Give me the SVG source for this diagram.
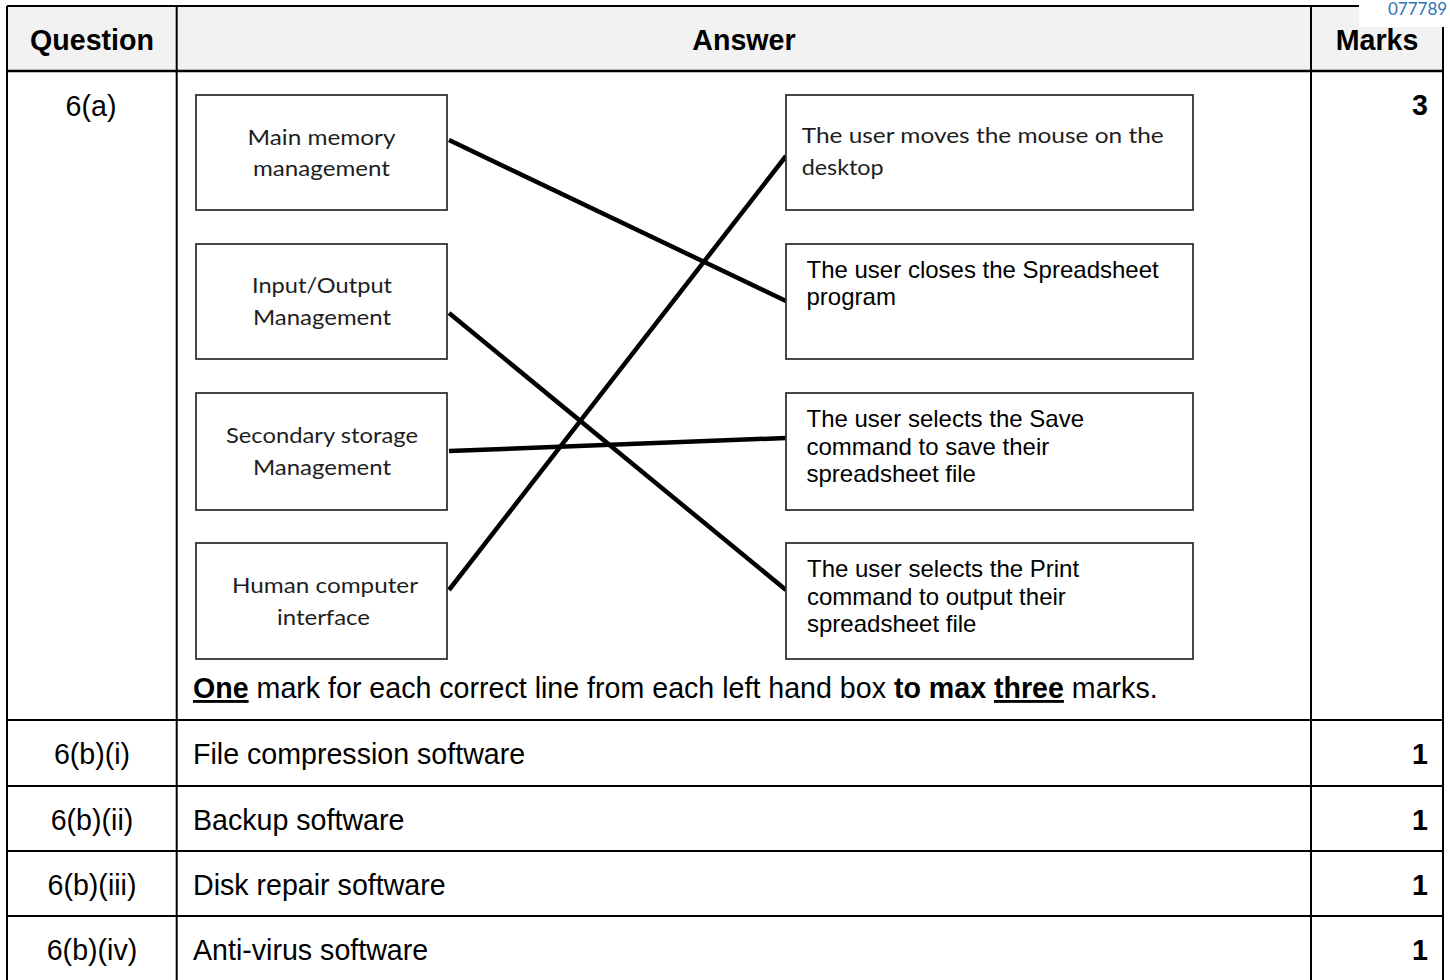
<svg xmlns="http://www.w3.org/2000/svg" width="1450" height="980" viewBox="0 0 1450 980">
<style>
.grid{stroke:#000;stroke-width:2;fill:none}
.t{font-family:"Liberation Sans",Arial,sans-serif;font-size:28.6px;fill:#000}
.b{font-weight:bold}
.box{fill:#fff;stroke:#333;stroke-width:1.8}
.cal{font-family:Lato,"Open Sans",sans-serif;font-size:21px;fill:#1e1e1e}
.ar{font-family:"Liberation Sans",Arial,sans-serif;font-size:24px;fill:#000}
.con{stroke:#000;stroke-width:4.5;stroke-linecap:butt}
</style>
<rect x="0" y="0" width="1450" height="980" fill="#fff"/>
<rect x="7" y="6" width="1436" height="65" fill="#f2f2f2"/>
<rect x="1359" y="0" width="91" height="27" fill="#fff"/>
<text x="1388" y="15" font-family="Lato,'Open Sans',sans-serif" font-size="17" fill="#2e74b5">077789</text>
<g id="table-grid" class="grid">
<line x1="7" y1="6" x2="1359" y2="6"/>
<line x1="7" y1="6" x2="7" y2="980"/>
<line x1="176.7" y1="6" x2="176.7" y2="980"/>
<line x1="1311" y1="6" x2="1311" y2="980"/>
<line x1="1443" y1="27" x2="1443" y2="980"/>
<line x1="7" y1="71" x2="1443" y2="71" stroke-width="2.5"/>
<line x1="7" y1="720" x2="1443" y2="720"/>
<line x1="7" y1="786" x2="1443" y2="786"/>
<line x1="7" y1="851" x2="1443" y2="851"/>
<line x1="7" y1="916" x2="1443" y2="916"/>
</g>
<text class="t b" x="92" y="50" text-anchor="middle">Question</text>
<text class="t b" x="744" y="50" text-anchor="middle">Answer</text>
<text class="t b" x="1377" y="50" text-anchor="middle">Marks</text>
<text class="t" x="91" y="116" text-anchor="middle">6(a)</text>
<text class="t b" x="1428" y="115" text-anchor="end">3</text>
<g id="connectors">
<line class="con" x1="449" y1="140" x2="786" y2="301"/>
<line class="con" x1="449" y1="313" x2="786" y2="590"/>
<line class="con" x1="449" y1="451" x2="786" y2="438"/>
<line class="con" x1="449" y1="590" x2="786" y2="156"/>
</g>
<g id="left-main-memory">
<rect class="box" x="196" y="95" width="251" height="115"/>
<text class="cal" x="321.5" y="145" text-anchor="middle" textLength="148" lengthAdjust="spacingAndGlyphs">Main memory</text>
<text class="cal" x="321.5" y="176" text-anchor="middle" textLength="137" lengthAdjust="spacingAndGlyphs">management</text>
</g>
<g id="left-io">
<rect class="box" x="196" y="244" width="251" height="115"/>
<text class="cal" x="322" y="293" text-anchor="middle" textLength="140" lengthAdjust="spacingAndGlyphs">Input/Output</text>
<text class="cal" x="322" y="325" text-anchor="middle" textLength="138" lengthAdjust="spacingAndGlyphs">Management</text>
</g>
<g id="left-secondary">
<rect class="box" x="196" y="393" width="251" height="117"/>
<text class="cal" x="322" y="443" text-anchor="middle" textLength="192" lengthAdjust="spacingAndGlyphs">Secondary storage</text>
<text class="cal" x="322" y="475" text-anchor="middle" textLength="138" lengthAdjust="spacingAndGlyphs">Management</text>
</g>
<g id="left-hci">
<rect class="box" x="196" y="543" width="251" height="116"/>
<text class="cal" x="325" y="593" text-anchor="middle" textLength="186" lengthAdjust="spacingAndGlyphs">Human computer</text>
<text class="cal" x="323.5" y="625" text-anchor="middle" textLength="93" lengthAdjust="spacingAndGlyphs">interface</text>
</g>
<g id="right-mouse">
<rect class="box" x="786" y="95" width="407" height="115"/>
<text class="cal" x="801.7" y="143" textLength="362" lengthAdjust="spacingAndGlyphs">The user moves the mouse on the</text>
<text class="cal" x="801.7" y="175" textLength="82" lengthAdjust="spacingAndGlyphs">desktop</text>
</g>
<g id="right-close">
<rect class="box" x="786" y="244" width="407" height="115"/>
<text class="ar" x="806.5" y="278">The user closes the Spreadsheet</text>
<text class="ar" x="806.5" y="305">program</text>
</g>
<g id="right-save">
<rect class="box" x="786" y="393" width="407" height="117"/>
<text class="ar" x="806.5" y="427">The user selects the Save</text>
<text class="ar" x="806.5" y="454.5">command to save their</text>
<text class="ar" x="806.5" y="482">spreadsheet file</text>
</g>
<g id="right-print">
<rect class="box" x="786" y="543" width="407" height="116"/>
<text class="ar" x="807" y="577">The user selects the Print</text>
<text class="ar" x="807" y="604.5">command to output their</text>
<text class="ar" x="807" y="632">spreadsheet file</text>
</g>
<text class="t" x="193" y="698"><tspan class="b" text-decoration="underline">One</tspan> mark for each correct line from each left hand box <tspan class="b">to max </tspan><tspan class="b" text-decoration="underline">three</tspan> marks.</text>
<text class="t" x="92" y="764" text-anchor="middle">6(b)(i)</text>
<text class="t" x="193" y="764">File compression software</text>
<text class="t b" x="1428" y="764" text-anchor="end">1</text>
<text class="t" x="92" y="829.5" text-anchor="middle">6(b)(ii)</text>
<text class="t" x="193" y="829.5">Backup software</text>
<text class="t b" x="1428" y="829.5" text-anchor="end">1</text>
<text class="t" x="92" y="894.5" text-anchor="middle">6(b)(iii)</text>
<text class="t" x="193" y="894.5">Disk repair software</text>
<text class="t b" x="1428" y="894.5" text-anchor="end">1</text>
<text class="t" x="92" y="959.5" text-anchor="middle">6(b)(iv)</text>
<text class="t" x="193" y="959.5">Anti-virus software</text>
<text class="t b" x="1428" y="959.5" text-anchor="end">1</text>
</svg>
